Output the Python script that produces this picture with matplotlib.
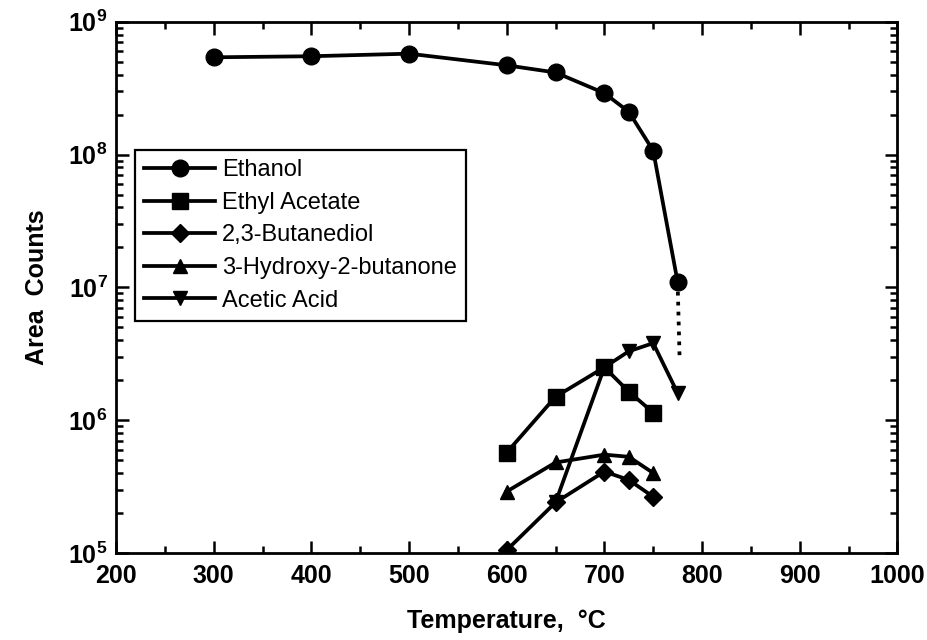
import numpy as np
import matplotlib
matplotlib.use("Agg")
import matplotlib.pyplot as plt
from matplotlib.ticker import MultipleLocator, LogLocator, FixedLocator, FixedFormatter, NullFormatter

plt.rcParams['font.family'] = ['Liberation Sans', 'DejaVu Sans']
plt.rcParams['mathtext.fontset'] = 'custom'
plt.rcParams['mathtext.rm'] = 'Liberation Sans'
plt.rcParams['mathtext.bf'] = 'Liberation Sans:bold'

# values
ethanol_x = [300, 400, 500, 600, 650, 700, 725, 750, 775]
ethanol_y = [5.4e8, 5.5e8, 5.75e8, 4.7e8, 4.15e8, 2.9e8, 2.1e8, 1.07e8, 1.1e7]
ethanol_tail_x = [775, 777]           # dotted extrapolation below last point
ethanol_tail_y = [1.1e7, 3.0e6]

temps_hi = [600, 650, 700, 725, 750]
ethyl_acetate_y = [5.7e5, 1.5e6, 2.5e6, 1.64e6, 1.14e6]
butanediol_y = [1.05e5, 2.4e5, 4.1e5, 3.55e5, 2.65e5]
hydroxybutanone_y = [2.9e5, 4.8e5, 5.5e5, 5.3e5, 4.0e5]

acetic_x = [650, 700, 725, 750, 775]
acetic_y = [2.4e5, 2.5e6, 3.3e6, 3.8e6, 1.6e6]

y_ticks = [1e5, 1e6, 1e7, 1e8, 1e9]
y_tick_labels = [r'$\mathbf{10^{5}}$', r'$\mathbf{10^{6}}$', r'$\mathbf{10^{7}}$',
                 r'$\mathbf{10^{8}}$', r'$\mathbf{10^{9}}$']

fig = plt.figure(figsize=(9.28, 6.4), dpi=100)
ax = fig.add_axes([0.125, 0.136, 0.842, 0.830])

lw = 2.7
ax.plot(ethanol_x, ethanol_y, '-', color='black', lw=lw, marker='o', ms=12, label='Ethanol')
ax.plot(ethanol_tail_x, ethanol_tail_y, ':', color='black', lw=lw)
ax.plot(temps_hi, ethyl_acetate_y, '-', color='black', lw=lw, marker='s', ms=11, label='Ethyl Acetate')
ax.plot(temps_hi, butanediol_y, '-', color='black', lw=lw, marker='D', ms=9, label='2,3-Butanediol')
ax.plot(temps_hi, hydroxybutanone_y, '-', color='black', lw=lw, marker='^', ms=10, label='3-Hydroxy-2-butanone')
ax.plot(acetic_x, acetic_y, '-', color='black', lw=lw, marker='v', ms=10, label='Acetic Acid')

ax.set_yscale('log')
ax.set_xlim(200, 1000)
ax.set_ylim(1e5, 1e9)

ax.xaxis.set_major_locator(MultipleLocator(100))
ax.xaxis.set_minor_locator(MultipleLocator(50))
ax.yaxis.set_major_locator(FixedLocator(y_ticks))
ax.yaxis.set_major_formatter(FixedFormatter(y_tick_labels))
ax.yaxis.set_minor_locator(LogLocator(base=10, subs=np.arange(2, 10)))
ax.yaxis.set_minor_formatter(NullFormatter())

ax.tick_params(which='both', direction='in', top=True, right=True, width=1.8)
ax.tick_params(which='major', length=9)
ax.tick_params(which='minor', length=5)
ax.tick_params(axis='x', labelsize=18, pad=8)
ax.tick_params(axis='y', labelsize=18, pad=6)
for lab in ax.get_xticklabels():
    lab.set_fontweight('bold')
for s in ax.spines.values():
    s.set_linewidth(2)

ax.set_xlabel('Temperature,  °C', fontsize=18, fontweight='bold', labelpad=15)
ax.set_ylabel('Area  Counts', fontsize=18, fontweight='bold', labelpad=14)

leg = ax.legend(loc='upper left', bbox_to_anchor=(0.024, 0.759), borderaxespad=0,
                fontsize=17, handlelength=3.0, handletextpad=0.3, labelspacing=0.45,
                borderpad=0.4, fancybox=False, framealpha=1, edgecolor='black')
leg.get_frame().set_linewidth(1.6)

fig.savefig('out.png', dpi=100)
